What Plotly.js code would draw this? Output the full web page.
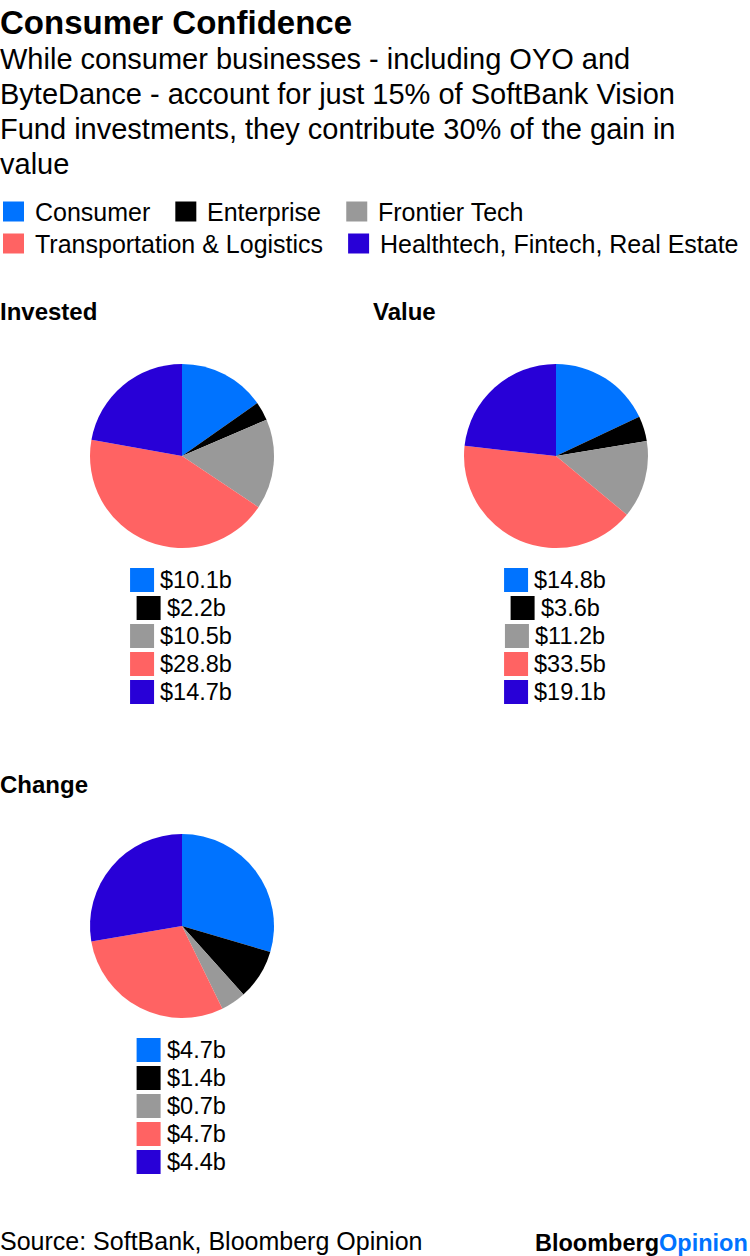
<!DOCTYPE html>
<html><head><meta charset="utf-8">
<script src="https://cdn.plot.ly/plotly-3.0.1.min.js"></script>
<style>html,body{margin:0;padding:0;background:#fff}#chart{width:750px;height:1256px}</style>
</head><body><div id="chart"></div>
<script>
// ---- data ----
const categories = ["Consumer", "Enterprise", "Frontier Tech", "Transportation & Logistics", "Healthtech, Fintech, Real Estate"];
const colors = ["#0073ff", "#000000", "#999999", "#ff6363", "#2800d7"];
const invested = [10.1, 2.2, 10.5, 28.8, 14.7];
const valueNow = [14.8, 3.6, 11.2, 33.5, 19.1];
const change = [4.7, 1.4, 0.7, 4.7, 4.4];
const panelTitles = ["Invested", "Value", "Change"];
const titleText = "Consumer Confidence";
const subtitleLines = [
  "While consumer businesses - including OYO and",
  "ByteDance - account for just 15% of SoftBank Vision",
  "Fund investments, they contribute 30% of the gain in",
  "value"
];
const sourceText = "Source: SoftBank, Bloomberg Opinion";

// ---- helpers ----
const W = 750, H = 1256;
const FONT = '"Liberation Sans", Arial, sans-serif';
const px = x => x / W;
const py = y => 1 - y / H;
const cv = document.createElement('canvas').getContext('2d');
function measure(t, size, bold) {
  cv.font = (bold ? 'bold ' : '') + size + 'px "Liberation Sans"';
  return cv.measureText(t).width;
}
const annotations = [];
const shapes = [];
function addText(text, x, y, size, opts) {
  opts = opts || {};
  annotations.push({
    xref: 'paper', yref: 'paper', x: px(x), y: py(y),
    xanchor: opts.xanchor || 'left', yanchor: 'middle',
    text: opts.bold ? '<b>' + text + '</b>' : text,
    showarrow: false, borderpad: 0, borderwidth: 0,
    font: {family: FONT, size: size, color: opts.color || '#000'}
  });
}
function addRect(x0, y0, x1, y1, color) {
  shapes.push({type: 'rect', xref: 'paper', yref: 'paper',
    x0: px(x0), x1: px(x1), y0: py(y1), y1: py(y0),
    fillcolor: color, line: {width: 0}});
}

// ---- title and subtitle ----
addText(titleText, 0, 22, 33, {bold: true});
subtitleLines.forEach((l, i) => addText(l, 0, 59 + 35 * i, 29));

// ---- top legend ----
const legendRows = [[0, 1, 2], [3, 4]];
const legendY = [211.5, 243.5];
const LEG_SIZE = 25;
legendRows.forEach((row, r) => {
  let x = 3;
  row.forEach(i => {
    addRect(x, legendY[r] - 10, x + 21, legendY[r] + 10, colors[i]);
    addText(categories[i], x + 32, legendY[r], LEG_SIZE);
    x += 32 + measure(categories[i], LEG_SIZE) + 25;
  });
});

// ---- pies ----
const panels = [
  {vals: invested, cx: 182, cy: 456, tx: 0, ty: 312},
  {vals: valueNow, cx: 556, cy: 456, tx: 373, ty: 312},
  {vals: change, cx: 182, cy: 926, tx: 0, ty: 784}
];
const R = 92;
const VAL_SIZE = 23.5;
const traces = panels.map((p, k) => {
  addText(panelTitles[k], p.tx, p.ty, 24, {bold: true});
  p.vals.forEach((v, i) => {
    const label = '$' + v.toFixed(1) + 'b';
    const y = p.cy + 124 + 28 * i;
    const tw = measure(label, VAL_SIZE);
    const total = 24 + 6 + tw;
    const left = p.cx - 1 - total / 2;
    addRect(left, y - 12, left + 24, y + 12, colors[i]);
    addText(label, left + 30, y, VAL_SIZE);
  });
  return {
    type: 'pie', values: p.vals, labels: categories,
    marker: {colors: colors, line: {width: 0}},
    sort: false, direction: 'clockwise', rotation: 0,
    textinfo: 'none', hoverinfo: 'skip', showlegend: false,
    domain: {x: [px(p.cx - R), px(p.cx + R)], y: [py(p.cy + R), py(p.cy - R)]}
  };
});

// ---- footer ----
addText(sourceText, 0, 1241, 25);
addText('Bloomberg<span style="color:#0073ff">Opinion</span>', 748, 1243, 23.5, {bold: true, xanchor: 'right'});

Plotly.newPlot('chart', traces, {
  width: W, height: H,
  margin: {l: 0, r: 0, t: 0, b: 0},
  paper_bgcolor: '#fff', plot_bgcolor: '#fff',
  showlegend: false,
  annotations: annotations, shapes: shapes,
  font: {family: FONT}
}, {displayModeBar: false, staticPlot: true});
</script>
</body></html>
